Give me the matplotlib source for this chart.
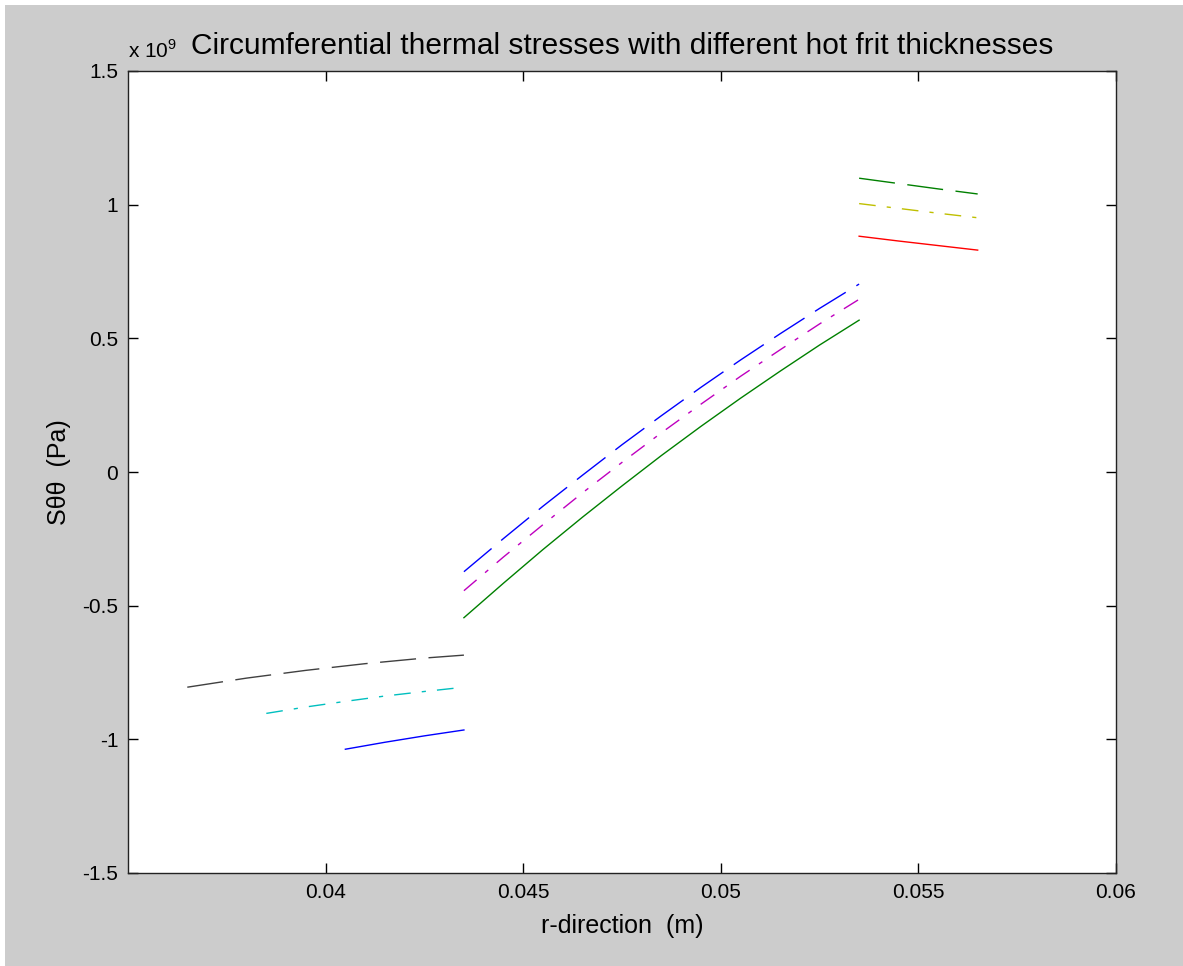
import matplotlib
matplotlib.use('Agg')
import matplotlib.pyplot as plt
from matplotlib.patches import Rectangle

plt.rcParams['font.family'] = ['Liberation Sans', 'DejaVu Sans']
plt.rcParams['lines.scale_dashes'] = False
plt.rcParams['mathtext.fontset'] = 'custom'
plt.rcParams['mathtext.rm'] = 'Liberation Sans'

# radial positions (m) in the three layers
r_in_a = [0.0365, 0.0380, 0.0395, 0.0410, 0.0425, 0.0435]
r_in_b = [0.0385, 0.0395, 0.0405, 0.0415, 0.0425, 0.0435]
r_in_c = [0.0405, 0.0415, 0.0425, 0.0435]
r_mid = [0.0435, 0.0445, 0.0455, 0.0465, 0.0475, 0.0485,
         0.0495, 0.0505, 0.0515, 0.0525, 0.0535]
r_out = [0.0535, 0.0545, 0.0555, 0.0565]

# circumferential stress (Pa)
s_in_a = [-0.805e9, -0.771e9, -0.742e9, -0.717e9, -0.696e9, -0.685e9]
s_in_b = [-0.903e9, -0.879e9, -0.858e9, -0.838e9, -0.821e9, -0.805e9]
s_in_c = [-1.037e9, -1.011e9, -0.987e9, -0.965e9]
s_mid_a = [-0.373e9, -0.249e9, -0.128e9, -0.012e9, 0.102e9, 0.211e9,
           0.317e9, 0.419e9, 0.517e9, 0.612e9, 0.703e9]
s_mid_b = [-0.444e9, -0.318e9, -0.197e9, -0.078e9, 0.036e9, 0.147e9,
           0.254e9, 0.358e9, 0.457e9, 0.554e9, 0.646e9]
s_mid_c = [-0.545e9, -0.416e9, -0.290e9, -0.169e9, -0.052e9, 0.062e9,
           0.171e9, 0.276e9, 0.377e9, 0.475e9, 0.568e9]
s_out_a = [1.099e9, 1.079e9, 1.059e9, 1.040e9]
s_out_b = [1.004e9, 0.986e9, 0.968e9, 0.951e9]
s_out_c = [0.882e9, 0.864e9, 0.847e9, 0.830e9]

x_ticks = [0.04, 0.045, 0.05, 0.055, 0.06]
x_tick_labels = ['0.04', '0.045', '0.05', '0.055', '0.06']
y_ticks = [-1.5, -1, -0.5, 0, 0.5, 1, 1.5]
y_tick_labels = ['-1.5', '-1', '-0.5', '0', '0.5', '1', '1.5']

# matlab default colour order
c_blue = (0, 0, 1)
c_green = (0, 0.5, 0)
c_red = (1, 0, 0)
c_cyan = (0, 0.75, 0.75)
c_mag = (0.75, 0, 0.75)
c_yel = (0.75, 0.75, 0)
c_dark = (0.25, 0.25, 0.25)

dashed = (0, (26, 9))
dashdot = (0, (12, 8, 3, 8))
lw = 1.0

fig = plt.figure(figsize=(11.83, 9.66), dpi=100, facecolor='white')
fig.patches.append(Rectangle((5 / 1183, 0), 1, 1 - 5 / 966, transform=fig.transFigure,
                             facecolor='#cccccc', edgecolor='none', zorder=-10))
ax = fig.add_axes([128 / 1183, 93 / 966, 988 / 1183, 802 / 966])

sc = 1e9
ax.plot(r_in_a, [v / sc for v in s_in_a], color=c_dark, ls=dashed, lw=lw)
ax.plot(r_in_b, [v / sc for v in s_in_b], color=c_cyan, ls=dashdot, lw=lw)
ax.plot(r_in_c, [v / sc for v in s_in_c], color=c_blue, ls='-', lw=lw)
ax.plot(r_mid, [v / sc for v in s_mid_a], color=c_blue, ls=dashed, lw=lw)
ax.plot(r_mid, [v / sc for v in s_mid_b], color=c_mag, ls=dashdot, lw=lw)
ax.plot(r_mid, [v / sc for v in s_mid_c], color=c_green, ls='-', lw=lw)
ax.plot(r_out, [v / sc for v in s_out_a], color=c_green, ls=dashed, lw=lw)
ax.plot(r_out, [v / sc for v in s_out_b], color=c_yel, ls=dashdot, lw=lw)
ax.plot(r_out, [v / sc for v in s_out_c], color=c_red, ls='-', lw=lw)

ax.set_xlim(0.035, 0.06)
ax.set_ylim(-1.5, 1.5)
ax.set_xticks(x_ticks)
ax.set_xticklabels(x_tick_labels)
ax.set_yticks(y_ticks)
ax.set_yticklabels(y_tick_labels)
ax.tick_params(direction='in', length=7, width=1, top=True, right=True,
               labelsize=15, pad=7)
for sp in ax.spines.values():
    sp.set_linewidth(1.0)
    sp.set_color('#222222')

ax.set_xlabel('r-direction  (m)', fontsize=18, labelpad=9)
ax.set_ylabel('Sθθ  (Pa)', fontsize=18, labelpad=8)
ax.text(0, 1.012, 'x 10$^{9}$', transform=ax.transAxes, fontsize=15,
        ha='left', va='bottom')
ax.set_title('Circumferential thermal stresses with different hot frit thicknesses',
             fontsize=21.5, pad=12)

fig.savefig('out.png', dpi=100, facecolor=fig.get_facecolor())
